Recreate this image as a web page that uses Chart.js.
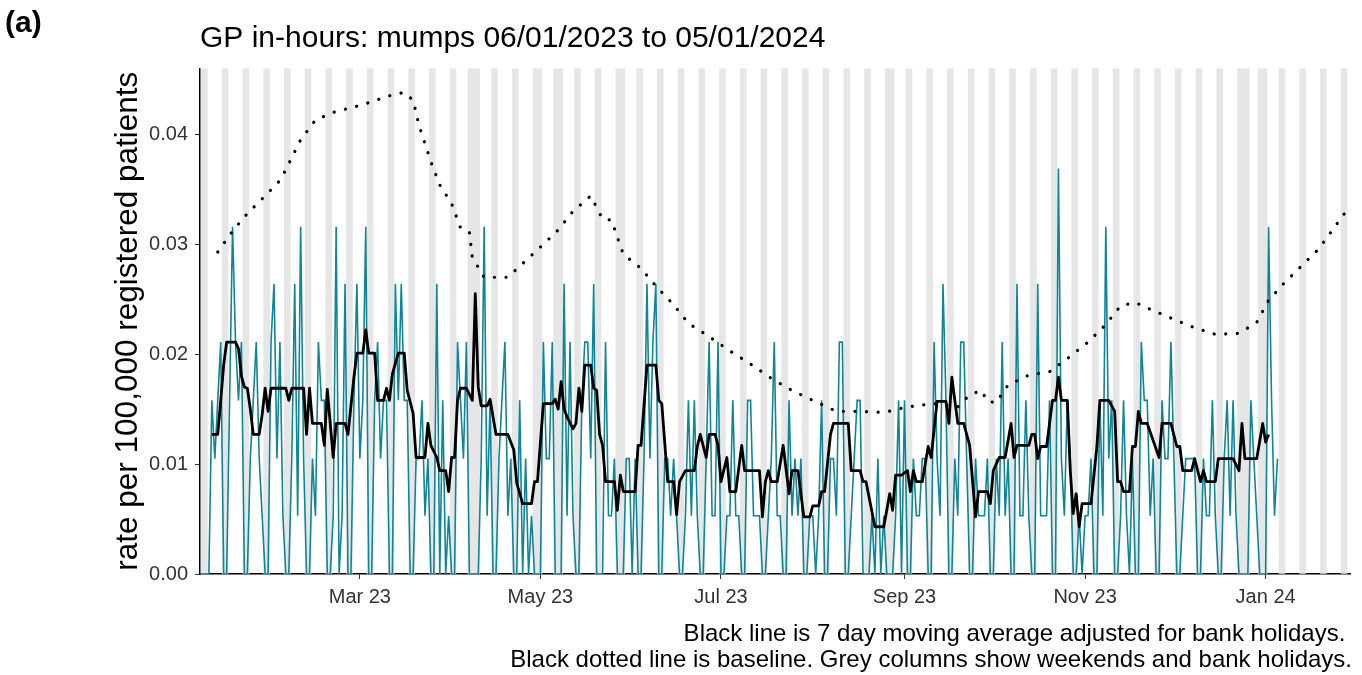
<!DOCTYPE html>
<html>
<head>
<meta charset="utf-8">
<script src="https://cdn.jsdelivr.net/npm/chart.js@4/dist/chart.umd.min.js"></script>
<style>
  html, body { margin: 0; padding: 0; background: #fff; }
  #wrap { position: relative; width: 1362px; height: 675px; }
  #panel { position: absolute; left: 5px; top: 5px; line-height: 1; font: bold 30px "Liberation Sans", Arial, sans-serif; color: #000; }
</style>
</head>
<body>
<div id="wrap">
  <canvas id="chart" width="1362" height="675"></canvas>
  <div id="panel">(a)</div>
</div>
<script>
const startDate = '2023-01-06';

// daily rate per 100,000, 06/01/2023 .. 05/01/2024 (first value, then weeks Sat..Fri)
const dailyRate = [0,
  0,0,0,.0158,.0105,.0158,.0211,
  0,0,.0158,.0316,.0211,.0158,.0211,
  0,0,.0105,.0158,.0211,.0105,.0053,
  0,0,.0211,.0264,.0105,.0211,.0053,
  0,0,.0105,.0264,.0053,.0316,.0105,
  0,0,.0105,.0053,.0211,.0158,.0158,
  0,0,.0053,.0316,0,.0053,.0264,
  0,0,.0158,.0264,.0105,.0158,.0316,
  0,0,.0158,.0211,.0105,.0158,.0158,
  0,0,.0264,.0158,.0264,.0158,.0158,
  0,0,.0105,.0105,.0158,.0053,.0105,
  0,0,.0264,0,.0158,0,.0053,
  0,0,.0211,.0158,.0105,.0211,0,
  0,0,0,.0105,.0316,.0053,.0158,
  0,0,.0105,.0158,.0211,.0053,.0105,
  0,0,.0158,0,.0105,0,.0053,
  0,0,0,.0211,.0105,.0105,.0211,
  0,0,0,.0264,.0053,.0211,.0053,
  0,0,.0158,.0211,.0211,.0105,.0264,
  0,0,0,.0211,.0053,.0053,.0105,
  0,0,0,.0105,.0105,0,.0105,
  0,0,.0105,.0264,.0105,.0211,.0264,
  0,0,.0105,.0105,.0053,.0105,.0053,
  0,0,.0053,.0158,.0053,.0158,.0053,
  0,0,.0105,.0211,.0053,.0053,.0211,
  0,0,.0053,.0053,.0158,.0053,.0053,
  0,0,.0158,.0158,.0053,.0053,.0053,
  0,0,.0053,.0105,.0211,.0053,.0053,
  0,0,.0158,.0053,.0105,.0053,.0105,
  0,0,.0053,.0053,0,.0053,.0158,
  0,0,.0105,.0105,.0053,.0211,.0211,
  0,0,.0053,.0105,.0158,.0158,0,
  0,0,.0053,0,.0105,0,.0053,
  0,0,0,.0053,.0158,0,.0158,
  0,0,.0105,.0053,.0053,.0105,.0105,
  0,0,.0211,.0105,.0053,.0264,.0158,
  0,0,.0105,.0053,.0211,.0211,.0105,
  0,0,.0105,.0053,.0053,.0053,.0105,
  0,0,.0105,.0053,.0211,.0053,.0105,
  0,0,.0264,.0053,.0053,.0158,.0053,
  0,0,.0264,.0053,.0053,.0053,.0158,
  0,0,.0369,.0105,.0053,.0158,.0105,
  0,0,.0053,0,.0053,.0053,.0105,
  0,0,.0158,.0053,.0316,.0105,.0158,
  0,0,.0053,.0158,.0053,0,.0105,
  0,0,.0211,.0158,.0158,.0053,.0105,
  0,0,.0158,.0105,.0105,.0211,.0105,
  0,0,.0053,.0105,.0105,.0105,.0105,
  0,0,.0105,.0053,.0053,.0158,.0053,
  0,0,.0105,.0158,.0053,.0158,.0053,
  0,0,0,0,.0158,.0105,.0053,
  0,0,0,.0316,.0158,.0053,.0105
];

// 7 day moving average (days since start, rate)
const maDays = [4,6,7,8,9,12,13,14,15,16,17,18,20,21,22,23,24,29,30,31,35,36,37,38,41,42,43,45,46,49,50,52,53,55,56,57,59,60,62,63,64,65,67,69,70,72,73,76,77,78,80,81,83,84,85,86,87,88,90,92,93,94,95,97,98,100,104,106,107,109,112,113,114,116,119,120,121,122,123,124,126,127,128,129,130,132,133,134,135,136,137,140,141,142,143,147,148,149,151,154,155,156,158,160,161,162,164,167,168,169,171,172,174,175,176,178,179,181,183,184,189,190,191,192,193,195,197,199,200,202,204,206,207,209,210,211,213,214,219,220,223,224,225,228,231,233,234,235,237,239,240,241,242,244,246,247,249,252,253,254,255,256,258,260,262,263,266,267,268,270,272,274,275,276,280,281,282,283,284,286,288,289,290,291,293,294,295,296,297,298,301,303,304,307,309,310,311,312,314,315,316,317,318,320,324,325,328,330,331,332,335,336,338,339,340,343,344,349,351,352,353,357,359,360,361];
const maRates = [.0127,.0127,.0158,.019,.0211,.0211,.0205,.018,.017,.0169,.015,.0127,.0127,.0145,.0169,.0148,.0169,.0169,.0158,.0169,.0169,.0127,.0169,.0137,.0137,.0117,.0168,.0106,.0137,.0137,.0127,.0179,.0201,.0201,.0222,.0201,.0201,.0158,.0158,.0169,.0158,.0182,.0201,.0201,.0167,.0146,.0106,.0106,.0137,.0117,.0106,.0094,.0094,.0075,.0106,.0106,.0158,.0169,.0169,.0158,.0255,.017,.0153,.0153,.0159,.0127,.0127,.0113,.0083,.0064,.0064,.0084,.0084,.0155,.0155,.0159,.015,.0175,.015,.0143,.0132,.0137,.0169,.0148,.019,.019,.0169,.0167,.0127,.0117,.0084,.0084,.0058,.009,.0075,.0075,.0117,.0117,.019,.019,.0158,.0155,.0084,.0084,.0054,.0084,.0094,.0094,.0116,.0127,.0106,.0127,.0127,.0117,.0084,.0106,.0075,.0075,.0117,.0094,.0094,.0052,.0084,.0094,.0084,.0084,.0117,.0073,.0094,.0094,.0052,.0052,.0062,.0062,.0075,.0075,.0127,.0137,.0137,.0094,.0094,.0084,.0084,.0043,.0043,.0073,.0058,.009,.009,.0094,.0075,.0094,.0084,.0084,.0116,.0106,.0157,.0157,.0137,.0179,.0158,.0137,.0137,.0117,.0052,.0075,.0075,.0064,.0094,.0106,.0106,.0137,.0106,.0117,.0117,.0127,.0127,.0105,.0116,.0116,.0158,.0158,.0179,.0158,.0158,.0094,.0055,.0073,.0043,.0064,.0064,.0116,.0158,.0158,.0148,.0084,.0084,.0075,.0075,.0116,.0116,.0148,.0137,.0137,.0106,.0137,.0137,.0116,.0116,.0094,.0094,.0105,.0084,.0094,.0084,.0084,.0105,.0105,.0094,.0137,.0105,.0105,.0137,.012,.0127];

// baseline (days since start, rate)
const baselineDays = [6,11,16,22,27,29,34,39,45,55,65,69,72,74,78,81,85,88,91,92,96,104,110,116,121,126,132,136,139,143,149,154,160,165,172,179,186,193,200,207,215,222,231,239,248,256,260,264,266,269,273,280,287,294,300,306,311,316,320,327,335,343,351,357,361,366,372,378,388];
const baselineRates = [.0293,.0312,.0328,.0344,.0358,.0368,.0395,.0413,.042,.0427,.0436,.0438,.0431,.0408,.0375,.0354,.0337,.0315,.0311,.0288,.027,.027,.0285,.030,.0313,.033,.0344,.0323,.0322,.0291,.0278,.0262,.0245,.0228,.0216,.0203,.0191,.0178,.0167,.0158,.0148,.0148,.0147,.0152,.0155,.0152,.0163,.0167,.0157,.0156,.0172,.0181,.0184,.0198,.0211,.0227,.0244,.0247,.0242,.0234,.0225,.0218,.0219,.0229,.0249,.0264,.028,.0296,.0333];

const bankHolidays = ['2023-04-07','2023-04-10','2023-05-01','2023-05-08','2023-05-29','2023-08-28','2023-12-25','2023-12-26','2024-01-01'];

const xTickDates = ['2023-03-01','2023-05-01','2023-07-01','2023-09-01','2023-11-01','2024-01-01'];
const xTickLabels = ['Mar 23','May 23','Jul 23','Sep 23','Nov 23','Jan 24'];
const yTicks = [0, 0.01, 0.02, 0.03, 0.04];

const X_MAX = 388.5;
const Y_MAX = 0.046;
const FONT = '"Liberation Sans", Arial, sans-serif';

const DAY = 864e5;
const t0 = Date.parse(startDate);
const dayOf = s => Math.round((Date.parse(s) - t0) / DAY);
const xTickDays = xTickDates.map(dayOf);
const holidayDays = bankHolidays.map(dayOf);

// weekends + bank holidays across the whole axis
const shadedDays = [];
for (let d = 0; d <= Math.floor(X_MAX); d++) {
  const wd = new Date(t0 + d * DAY).getUTCDay();
  if (wd === 0 || wd === 6 || holidayDays.includes(d)) shadedDays.push(d);
}

Chart.defaults.font.family = FONT;

new Chart(document.getElementById('chart'), {
  type: 'line',
  data: {
    datasets: [
      {
        type: 'bar',
        data: shadedDays.map(d => ({ x: d, y: Y_MAX })),
        backgroundColor: '#e6e6e6',
        borderWidth: 0,
        barPercentage: 1,
        categoryPercentage: 1,
        order: 4,
      },
      {
        data: dailyRate.map((v, i) => ({ x: i, y: v })),
        borderColor: '#0e8599',
        borderWidth: 1.6,
        pointRadius: 0,
        tension: 0,
        order: 3,
      },
      {
        data: baselineDays.map((d, i) => ({ x: d, y: baselineRates[i] })),
        borderColor: '#000',
        borderWidth: 3.2,
        borderDash: [0.1, 11.5],
        borderCapStyle: 'round',
        pointRadius: 0,
        order: 2,
      },
      {
        data: maDays.map((d, i) => ({ x: d, y: maRates[i] })),
        borderColor: '#000',
        borderWidth: 2.8,
        borderJoinStyle: 'round',
        pointRadius: 0,
        order: 1,
      },
    ],
  },
  options: {
    responsive: false,
    animation: false,
    devicePixelRatio: 1,
    layout: { padding: { left: 0, right: 10, top: 0, bottom: 0 } },
    plugins: {
      legend: { display: false },
      tooltip: { enabled: false },
      title: {
        display: true,
        text: 'GP in-hours: mumps 06/01/2023 to 05/01/2024',
        align: 'start',
        fullSize: false,
        color: '#000',
        font: { size: 30, weight: 'normal', lineHeight: 1.2 },
        padding: { top: 21, bottom: 11.4 },
      },
      subtitle: {
        display: true,
        position: 'bottom',
        align: 'end',
        text: [
          'Black line is 7 day moving average adjusted for bank holidays. ',
          'Black dotted line is baseline. Grey columns show weekends and bank holidays.',
        ],
        color: '#000',
        font: { size: 24, lineHeight: 1.05 },
        padding: { top: 13, bottom: 2.4 },
      },
    },
    scales: {
      x: {
        type: 'linear',
        min: 0,
        max: X_MAX,
        offset: false,
        border: { display: true, color: '#000', width: 1.5 },
        grid: { display: true, offset: false, drawOnChartArea: false, drawTicks: true, tickLength: 5, color: '#333' },
        ticks: {
          color: '#333',
          font: { size: 20 },
          padding: 6,
          maxRotation: 0,
          autoSkip: false,
          callback: (v, i) => xTickLabels[i],
        },
        afterBuildTicks: s => { s.ticks = xTickDays.map(v => ({ value: v })); },
        afterFit: s => { s.paddingRight = 12; s.height = 35.2; },
      },
      y: {
        min: 0,
        max: Y_MAX,
        border: { display: true, color: '#000', width: 1.5 },
        grid: { display: true, drawOnChartArea: false, drawTicks: true, tickLength: 5, color: '#333' },
        ticks: {
          color: '#333',
          font: { size: 20 },
          padding: 7,
          callback: v => Number(v).toFixed(2),
        },
        afterBuildTicks: s => { s.ticks = yTicks.map(v => ({ value: v })); },
        title: {
          display: true,
          text: 'rate per 100,000 registered patients',
          color: '#000',
          font: { size: 31.5 },
          padding: { top: 109, bottom: 0 },
        },
        afterFit: s => { s.width = 200; },
      },
    },
  },
});
</script>
</body>
</html>
